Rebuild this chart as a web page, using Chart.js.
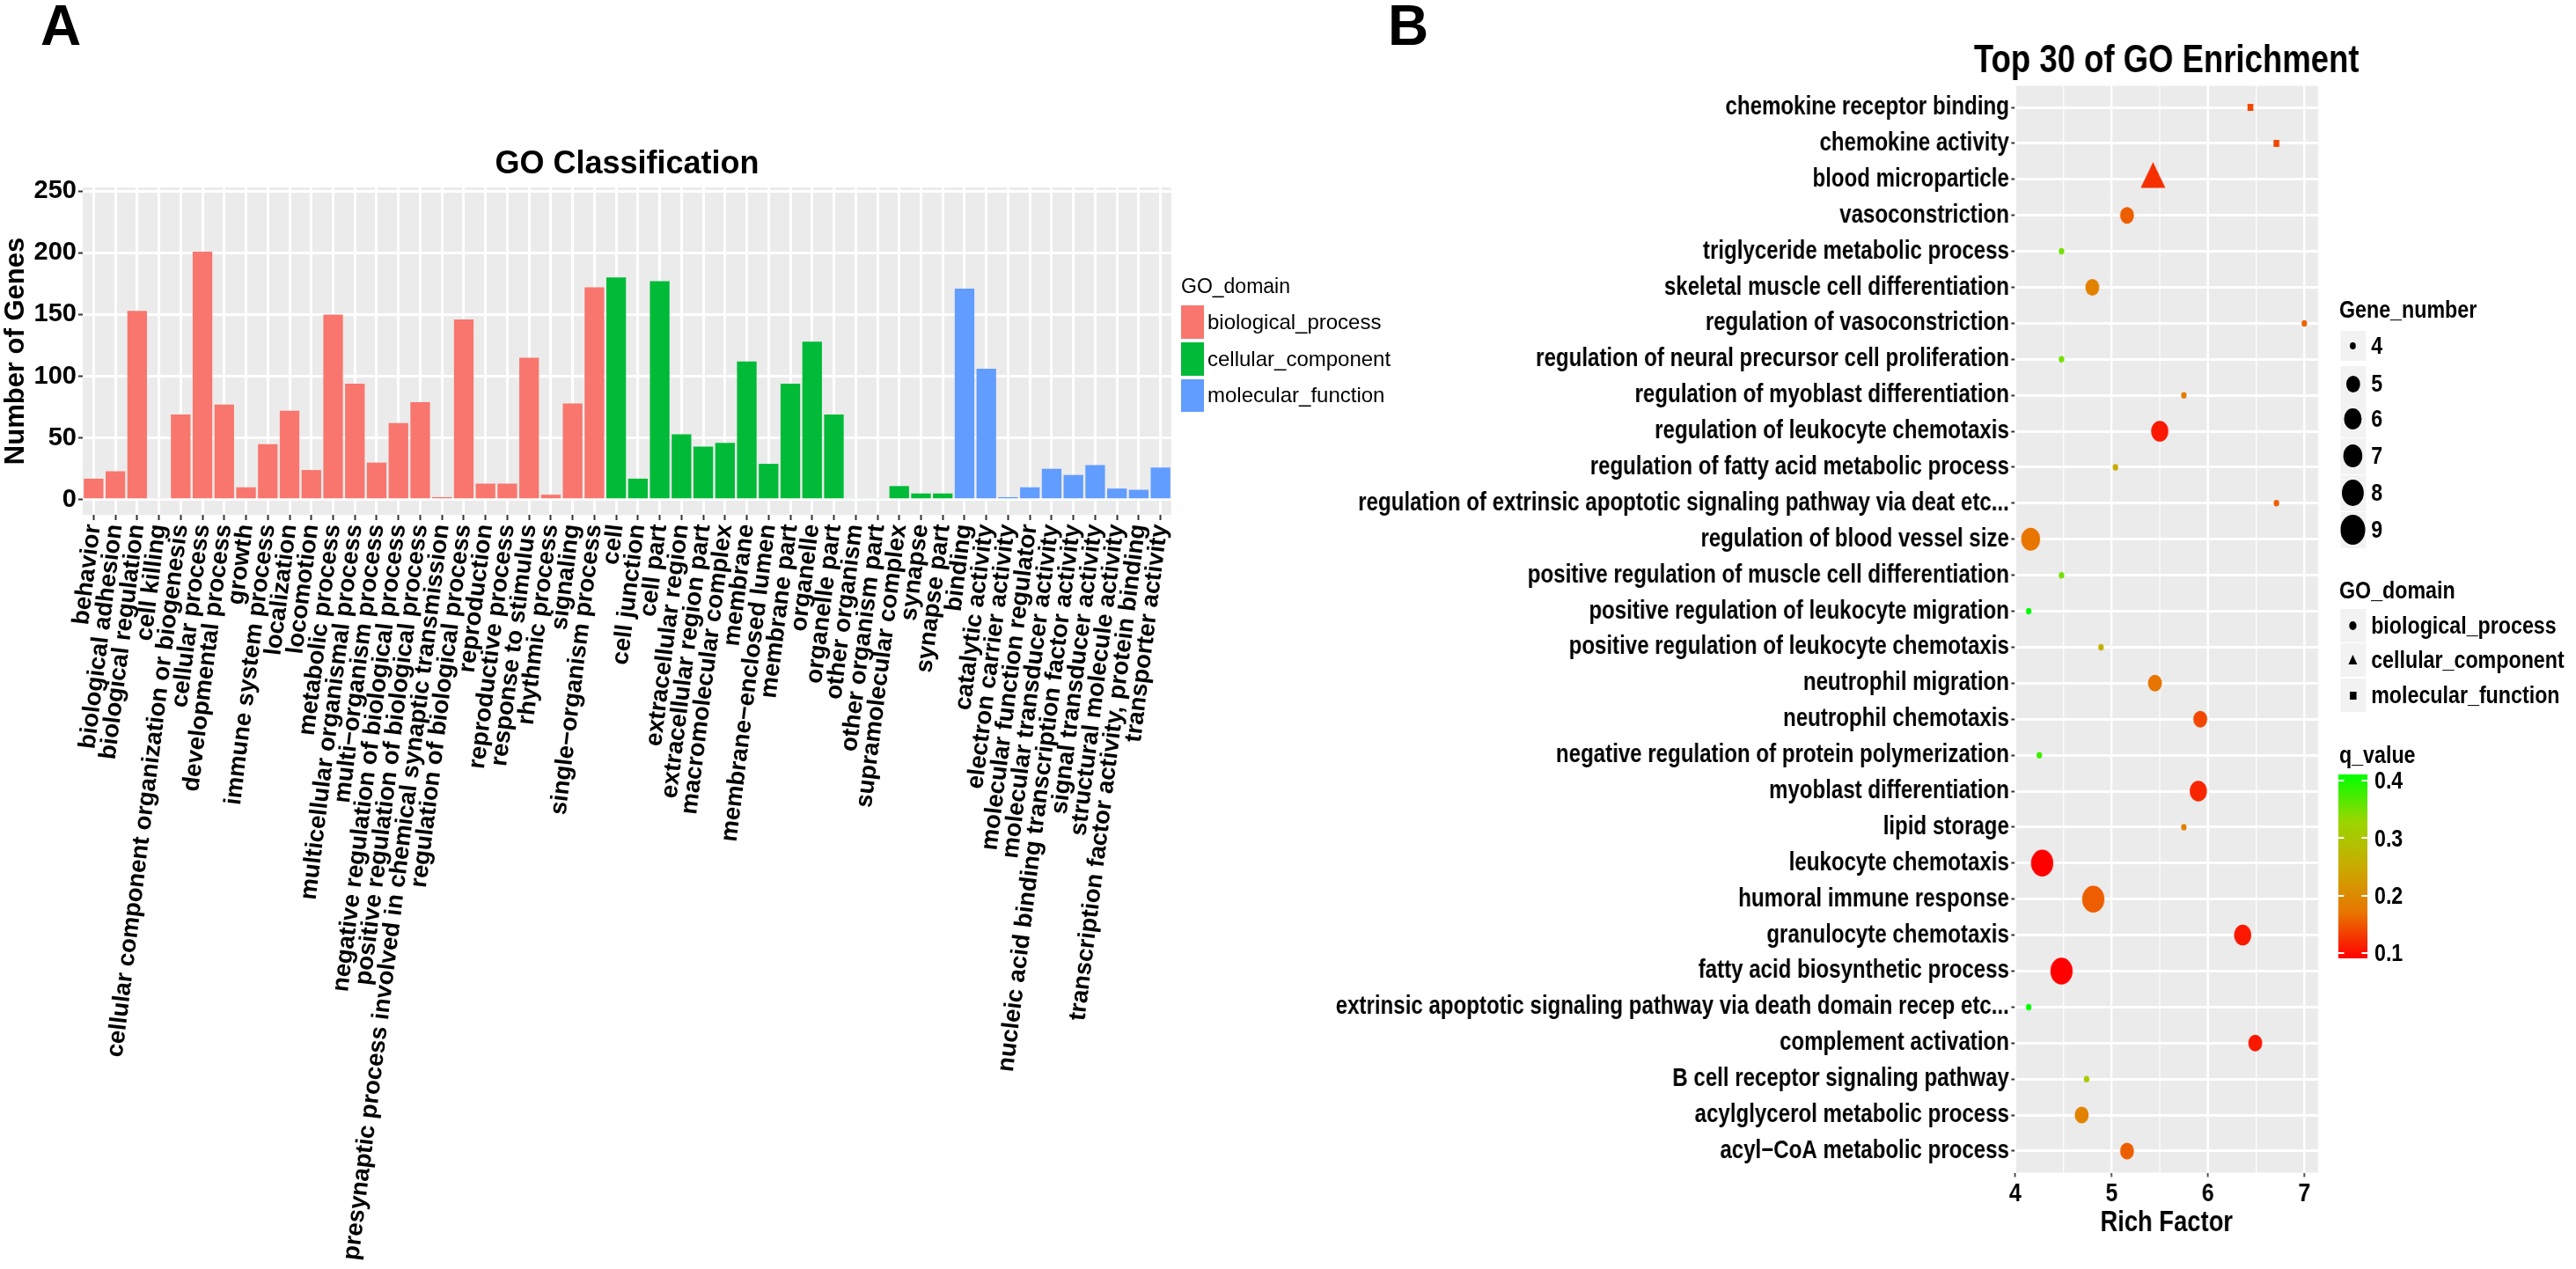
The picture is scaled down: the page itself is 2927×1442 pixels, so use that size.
<!DOCTYPE html>
<html>
<head>
<meta charset="utf-8">
<title>GO Classification / Top 30 of GO Enrichment</title>
<script src="https://cdn.jsdelivr.net/npm/chart.js@4.4.1/dist/chart.umd.min.js"></script>
<style>
  html, body { margin: 0; padding: 0; background: #fff; }
  body { width: 2927px; height: 1442px; position: relative; overflow: hidden; font-family: "Liberation Sans", Arial, sans-serif; color: #000; }
  .abs { position: absolute; white-space: nowrap; }
  #boxB { position: absolute; left: 1450px; top: 0; width: 1780px; height: 1442px; transform: scaleX(0.83); transform-origin: 0 0; }
</style>
</head>
<body>
<div class="abs" style="left:46px;top:-3px;font:bold 64px/64px 'Liberation Sans',Arial,sans-serif">A</div>
<div class="abs" style="left:1577px;top:-3px;font:bold 64px/64px 'Liberation Sans',Arial,sans-serif">B</div>
<canvas id="chartA" class="abs" style="left:0;top:0" width="1360" height="1442"></canvas>
<div id="legendA"></div>
<div id="boxB">
  <canvas id="chartB" width="1780" height="1442"></canvas>
  <div id="legendB"></div>
</div>
<script>
// ---------- panel A: GO classification ----------
const bpTerms = ["behavior", "biological adhesion", "biological regulation", "cell killing",
  "cellular component organization or biogenesis", "cellular process", "developmental process",
  "growth", "immune system process", "localization", "locomotion", "metabolic process",
  "multicellular organismal process", "multi−organism process",
  "negative regulation of biological process", "positive regulation of biological process",
  "presynaptic process involved in chemical synaptic transmission", "regulation of biological process",
  "reproduction", "reproductive process", "response to stimulus", "rhythmic process", "signaling",
  "single−organism process"];
const bpCounts = [17, 23, 153, 1, 69, 201, 77, 10, 45, 72, 24, 150, 94, 30, 62, 79, 2, 146, 13, 13, 115, 4, 78, 172];

const ccTerms = ["cell", "cell junction", "cell part", "extracellular region", "extracellular region part",
  "macromolecular complex", "membrane", "membrane−enclosed lumen", "membrane part", "organelle",
  "organelle part", "other organism", "other organism part", "supramolecular complex", "synapse", "synapse part"];
const ccCounts = [180, 17, 177, 53, 43, 46, 112, 29, 94, 128, 69, 1, 1, 11, 5, 5];

const mfTerms = ["binding", "catalytic activity", "electron carrier activity", "molecular function regulator",
  "molecular transducer activity", "nucleic acid binding transcription factor activity",
  "signal transducer activity", "structural molecule activity",
  "transcription factor activity, protein binding", "transporter activity"];
const mfCounts = [171, 106, 2, 10, 25, 20, 28, 9, 8, 26];

const domainNames = ["biological_process", "cellular_component", "molecular_function"];
const domainColors = ["#F8766D", "#00BA38", "#619CFF"];
const yTicksA = [0, 25, 50, 75, 100, 125, 150, 175, 200, 225, 250];

// ---------- panel B: top 30 enrichment ----------
const termsB = ["chemokine receptor binding", "chemokine activity", "blood microparticle", "vasoconstriction",
  "triglyceride metabolic process", "skeletal muscle cell differentiation", "regulation of vasoconstriction",
  "regulation of neural precursor cell proliferation", "regulation of myoblast differentiation",
  "regulation of leukocyte chemotaxis", "regulation of fatty acid metabolic process",
  "regulation of extrinsic apoptotic signaling pathway via deat etc...", "regulation of blood vessel size",
  "positive regulation of muscle cell differentiation", "positive regulation of leukocyte migration",
  "positive regulation of leukocyte chemotaxis", "neutrophil migration", "neutrophil chemotaxis",
  "negative regulation of protein polymerization", "myoblast differentiation", "lipid storage",
  "leukocyte chemotaxis", "humoral immune response", "granulocyte chemotaxis",
  "fatty acid biosynthetic process", "extrinsic apoptotic signaling pathway via death domain recep etc...",
  "complement activation", "B cell receptor signaling pathway", "acylglycerol metabolic process",
  "acyl−CoA metabolic process"];
const richB = [6.44, 6.71, 5.43, 5.16, 4.48, 4.80, 7.00, 4.48, 5.75, 5.50, 5.04, 6.71, 4.16, 4.48, 4.14,
  4.89, 5.45, 5.92, 4.25, 5.90, 5.75, 4.28, 4.81, 6.36, 4.48, 4.14, 6.49, 4.74, 4.69, 5.16];
const geneB = [4, 4, 9, 5, 4, 5, 4, 4, 4, 6, 4, 4, 7, 4, 4, 4, 5, 5, 4, 6, 4, 8, 8, 6, 8, 4, 5, 4, 5, 5];
const qB = [0.139, 0.139, 0.123, 0.155, 0.35, 0.187, 0.158, 0.35, 0.18, 0.107, 0.25, 0.155, 0.17, 0.35, 0.411,
  0.26, 0.17, 0.139, 0.38, 0.117, 0.19, 0.091, 0.155, 0.107, 0.091, 0.411, 0.107, 0.31, 0.19, 0.155];
// 0 = biological_process, 1 = cellular_component, 2 = molecular_function
const domainB = [2, 2, 1, 0, 0, 0, 0, 0, 0, 0, 0, 0, 0, 0, 0, 0, 0, 0, 0, 0, 0, 0, 0, 0, 0, 0, 0, 0, 0, 0];
const xTicksB = [4, 4.5, 5, 5.5, 6, 6.5, 7];
const geneLegend = [4, 5, 6, 7, 8, 9];
const qTicks = [0.1, 0.2, 0.3, 0.4];

// ---------- styling helpers ----------
const FONT = '"Liberation Sans", Arial, sans-serif';
Chart.defaults.font.family = FONT;
Chart.defaults.color = "#000";

const radiusByGene = {4: 3.75, 5: 9.5, 6: 11.75, 7: 13, 8: 15.25, 9: 17};
const shapeByDomain = ["circle", "triangle", "rect"];
const shapeScale = [1, 1.15, 1.5];

const qLo = Math.min(...qB), qHi = Math.max(...qB);
const qStops = [[0, [255, 0, 0]], [0.25, [232, 118, 0]], [0.5, [201, 171, 0]], [0.75, [152, 215, 0]], [1, [0, 255, 0]]];
function qColor(q) {
  const t = Math.min(1, Math.max(0, (q - qLo) / (qHi - qLo)));
  for (let i = 1; i < qStops.length; i++) {
    if (t <= qStops[i][0]) {
      const [t0, c0] = qStops[i - 1], [t1, c1] = qStops[i];
      const f = (t - t0) / (t1 - t0);
      const c = c0.map((v, k) => Math.round(v + (c1[k] - v) * f));
      return "rgb(" + c.join(",") + ")";
    }
  }
  return "rgb(0,255,0)";
}

const panelBg = {
  id: "panelBg",
  beforeDraw(chart) {
    const {ctx, chartArea: a} = chart;
    ctx.save();
    ctx.fillStyle = "#EBEBEB";
    ctx.fillRect(a.left, a.top, a.right - a.left, a.bottom - a.top);
    ctx.restore();
  }
};

const panelTitle = {
  id: "panelTitle",
  afterDraw(chart, args, opts) {
    const {ctx, chartArea: a} = chart;
    ctx.save();
    ctx.font = "bold " + opts.size + "px " + FONT;
    ctx.fillStyle = "#000";
    ctx.textAlign = "center";
    ctx.textBaseline = "alphabetic";
    ctx.fillText(opts.text, (a.left + a.right) / 2, opts.baseline);
    ctx.restore();
  }
};

// ---------- chart A ----------
const labelsA = bpTerms.concat(ccTerms, mfTerms);
const countsA = bpCounts.concat(ccCounts, mfCounts);
const fillA = bpTerms.map(() => domainColors[0])
  .concat(ccTerms.map(() => domainColors[1]), mfTerms.map(() => domainColors[2]));

new Chart(document.getElementById("chartA"), {
  type: "bar",
  data: {
    labels: labelsA,
    datasets: [{data: countsA, backgroundColor: fillA, borderWidth: 0, barPercentage: 0.9, categoryPercentage: 1.0}]
  },
  options: {
    responsive: false, animation: false, events: [],
    layout: {padding: {top: 213, right: 29, bottom: 0, left: 0}},
    plugins: {
      legend: {display: false}, tooltip: {enabled: false},
      panelTitle: {text: "GO Classification", size: 36, baseline: 197}
    },
    scales: {
      x: {
        border: {display: false},
        grid: {offset: false, color: "#FFFFFF", lineWidth: 3, tickColor: "#333333", tickLength: 6, tickWidth: 2},
        ticks: {autoSkip: false, minRotation: 83, maxRotation: 83, padding: 3, color: "#000",
          font: {size: 27.5, weight: "bold"}},
        afterFit(scale) { scale.height = 857; }
      },
      y: {
        min: -12.3, max: 253,
        border: {display: false},
        grid: {
          color: "#FFFFFF",
          lineWidth: c => (c.tick && c.tick.value % 50 === 0) ? 3 : 1.5,
          tickColor: c => (c.tick && c.tick.value % 50 === 0) ? "#333333" : "rgba(0,0,0,0)",
          tickLength: 5, tickWidth: 2
        },
        ticks: {padding: 2, color: "#000", font: {size: 29, weight: "bold"},
          callback: v => (v % 50 === 0 ? v : "")},
        afterBuildTicks(scale) { scale.ticks = yTicksA.map(v => ({value: v})); },
        title: {display: true, text: "Number of Genes", color: "#000", font: {size: 31, weight: "bold"},
          padding: {top: 0, bottom: 0}},
        afterFit(scale) { scale.width = 94; }
      }
    }
  },
  plugins: [panelBg, panelTitle]
});

// ---------- chart B ----------
const pointsB = termsB.map((t, i) => ({x: richB[i], y: i}));
const stylesB = domainB.map(d => shapeByDomain[d]);
const radiiB = geneB.map((g, i) => radiusByGene[g] * shapeScale[domainB[i]]);
const colorsB = qB.map(qColor);

new Chart(document.getElementById("chartB"), {
  type: "scatter",
  data: {
    datasets: [{
      data: pointsB, pointStyle: stylesB, pointRadius: radiiB, pointHoverRadius: radiiB,
      pointBackgroundColor: colorsB, pointBorderWidth: 0, clip: false
    }]
  },
  options: {
    responsive: false, animation: false, events: [],
    layout: {autoPadding: false, padding: {top: 97.5, right: 353.5, bottom: 0, left: 0}},
    plugins: {
      legend: {display: false}, tooltip: {enabled: false},
      panelTitle: {text: "Top 30 of GO Enrichment", size: 44, baseline: 82}
    },
    scales: {
      x: {
        type: "linear", min: 3.997, max: 7.143,
        border: {display: false},
        grid: {
          color: "#FFFFFF",
          lineWidth: c => (c.tick && Number.isInteger(c.tick.value)) ? 3 : 1.5,
          tickColor: c => (c.tick && Number.isInteger(c.tick.value)) ? "#333333" : "rgba(0,0,0,0)",
          tickLength: 5, tickWidth: 2
        },
        ticks: {padding: 1, color: "#000", font: {size: 30, weight: "bold"},
          callback: v => (Number.isInteger(v) ? v : "")},
        afterBuildTicks(scale) { scale.ticks = xTicksB.map(v => ({value: v})); },
        title: {display: true, text: "Rich Factor", color: "#000", font: {size: 33, weight: "bold"},
          padding: {top: 0, bottom: 32}},
        afterFit(scale) { scale.height = 109.5; }
      },
      y: {
        type: "linear", reverse: true, min: -0.6, max: 29.6,
        border: {display: false},
        grid: {color: "#FFFFFF", lineWidth: 3, tickColor: "#333333", tickLength: 5, tickWidth: 2},
        ticks: {padding: 3, color: "#000", font: {size: 29, weight: "bold"},
          callback: v => termsB[v]},
        afterBuildTicks(scale) { scale.ticks = termsB.map((t, i) => ({value: i})); },
        afterFit(scale) { scale.width = 1011.4; }
      }
    }
  },
  plugins: [panelBg, panelTitle]
});

// ---------- legends (HTML) ----------
function addText(parent, text, left, baseline, size, bold) {
  const d = document.createElement("div");
  d.className = "abs";
  d.textContent = text;
  d.style.left = left + "px";
  d.style.top = (baseline - 0.8465 * size) + "px";
  d.style.font = (bold ? "bold " : "") + size + "px/" + size + "px " + FONT;
  parent.appendChild(d);
  return d;
}
function addBox(parent, left, top, w, h, css) {
  const d = document.createElement("div");
  d.className = "abs";
  d.style.left = left + "px"; d.style.top = top + "px";
  d.style.width = w + "px"; d.style.height = h + "px";
  Object.assign(d.style, css);
  parent.appendChild(d);
  return d;
}

// legend of panel A
const legA = document.getElementById("legendA");
addText(legA, "GO_domain", 1342, 333, 23, false);
domainNames.forEach((name, i) => {
  const top = 347.3 + i * 41.7;
  addBox(legA, 1342, top, 26, 37.5, {background: domainColors[i]});
  addText(legA, name, 1372, top + 18.7 + 8.4, 24, false);
});

// legends of panel B (native, unsqueezed x coordinates)
const legB = document.getElementById("legendB");
const keyX = 1456.6, keyW = 35, labX = 1499;
addText(legB, "Gene_number", 1455.4, 362, 28, true);
const geneKeyY = [393, 436, 476, 518, 560, 602];
geneLegend.forEach((g, i) => {
  const cy = geneKeyY[i], h = i === 0 ? 34 : 41;
  addBox(legB, keyX, cy - h / 2, keyW, h, {background: "#F2F2F2"});
  const r = radiusByGene[g];
  addBox(legB, keyX + keyW / 2 - r, cy - r, 2 * r, 2 * r, {background: "#000", borderRadius: "50%"});
  addText(legB, String(g), labX, cy + 10, 28, true);
});

addText(legB, "GO_domain", 1455.4, 681, 28, true);
const domKeyY = [711, 750, 790];
domainNames.forEach((name, i) => {
  const cy = domKeyY[i], cx = keyX + keyW / 2;
  addBox(legB, keyX, cy - 19, keyW, 38, {background: "#F2F2F2"});
  if (i === 0) addBox(legB, cx - 5, cy - 5, 10, 10, {background: "#000", borderRadius: "50%"});
  if (i === 1) addBox(legB, cx - 6.5, cy - 6, 0, 0, {borderLeft: "6.5px solid transparent",
    borderRight: "6.5px solid transparent", borderBottom: "11px solid #000"});
  if (i === 2) addBox(legB, cx - 4.5, cy - 4.5, 9, 9, {background: "#000"});
  addText(legB, name, labX, cy + 10, 28, true);
});

addText(legB, "q_value", 1455.4, 868, 28, true);
const barTop = 880, barH = 209, barX = 1454, barW = 40;
addBox(legB, barX, barTop, barW, barH, {
  background: "linear-gradient(to top, " + qStops.map(s => "rgb(" + s[1].join(",") + ") " + (s[0] * 100) + "%").join(", ") + ")"
});
qTicks.forEach(q => {
  const y = barTop + barH * (1 - (q - qLo) / (qHi - qLo));
  addBox(legB, barX, y - 1, 8, 2, {background: "#FFFFFF"});
  addBox(legB, barX + barW - 8, y - 1, 8, 2, {background: "#FFFFFF"});
  addText(legB, q.toFixed(1), 1503.6, y + 10, 28, true);
});
</script>
</body>
</html>
